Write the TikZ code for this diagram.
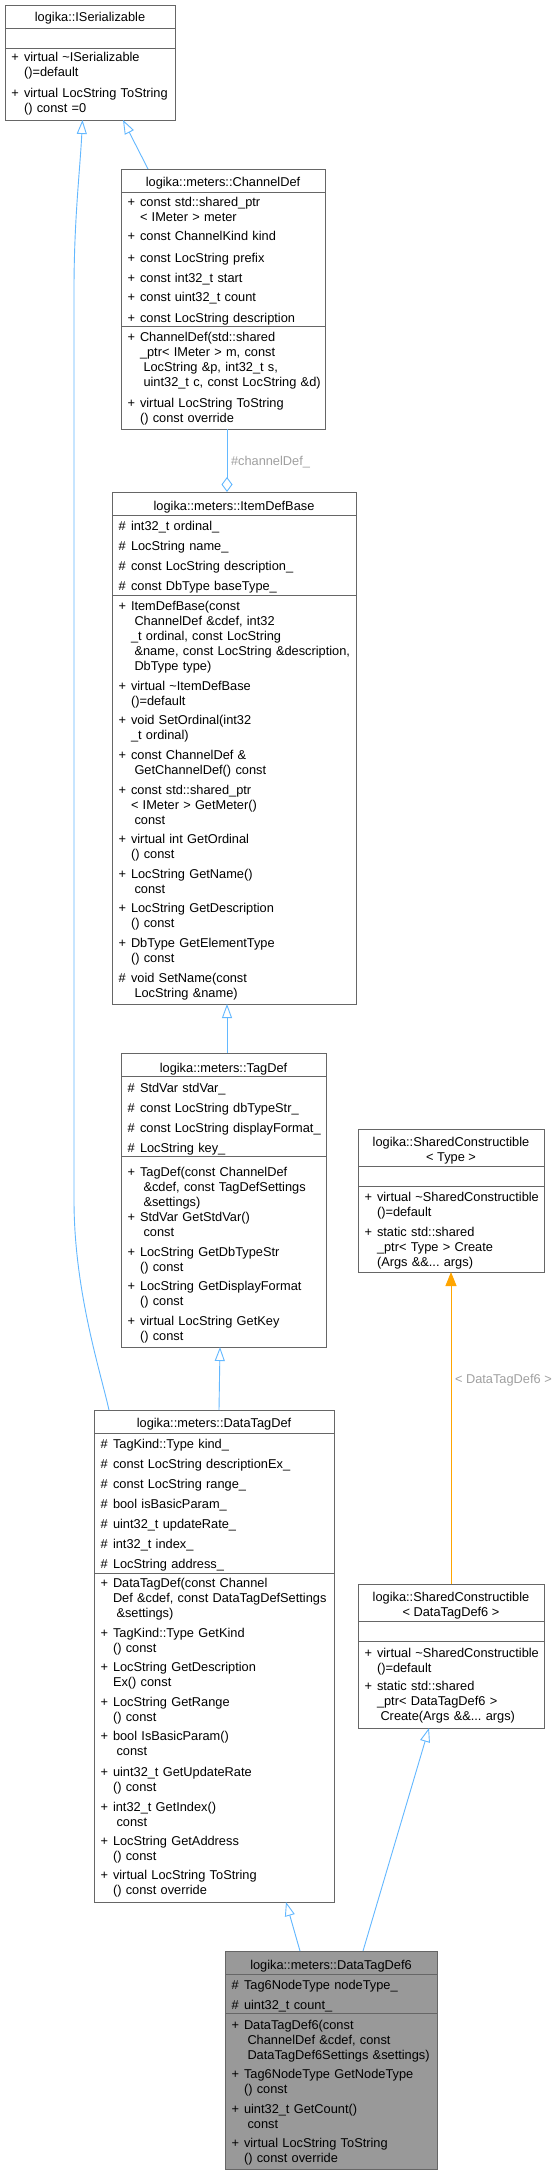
\documentclass[tikz,border=0pt]{standalone}
\usepackage{fontspec}
\setmainfont{Liberation Sans}
\usetikzlibrary{arrows.meta}
\frenchspacing
\definecolor{edgeblue}{HTML}{63B8FF}
\definecolor{edgeorange}{HTML}{FFA500}
\definecolor{boxborder}{HTML}{666666}
\definecolor{lblgray}{HTML}{A0A0A0}
\definecolor{hlfill}{HTML}{999999}
\newcommand\ind{\hspace*{3.5pt}}
% #1 name, #2 left, #3 top, #4 width, #5 height, #6 sep1, #7 sep2, #8 fill
\newcommand\classbox[8]{%
  \node[clsbox, fill=#8, minimum width=#4pt, minimum height=#5pt, anchor=north west] (#1) at (#2,#3) {};
  \draw[clsline] (#2,#6) -- ++(#4,0);
  \draw[clsline] (#2,#7) -- ++(#4,0);
}
% #1 name, #2 box left, #3 baseline, #4 symbol, #5 text
\newcommand\mem[5]{%
  \node[mtxt, anchor=base west] (#1s) at ({#2+6.5},#3) {#4};
  \node[mtxt, anchor=base west, text width=260pt, align=left] (#1) at ({#2+19},#3) {\frenchspacing #5};
}
% #1 name, #2 x, #3 baseline, #4 text
\newcommand\ttl[4]{\node[mtxt, anchor=base] (#1) at (#2,#3) {#4};}
\tikzset{
  clsbox/.style={draw=boxborder, line width=0.9pt, inner sep=0pt, outer sep=0pt},
  clsline/.style={draw=boxborder, line width=0.9pt},
  mtxt/.style={font=\fontsize{12.8}{15}\selectfont, inner sep=0pt, outer sep=0pt},
  lbl/.style={font=\fontsize{12.8}{15}\selectfont, text=lblgray, inner sep=0pt, outer sep=0pt},
  inh/.style={draw=edgeblue, line width=0.9pt, -{Triangle[open, length=14pt, width=10pt, line width=0.9pt]}},
  agg/.style={draw=edgeblue, line width=0.9pt, -{Diamond[open, length=15pt, width=11pt, line width=0.9pt]}},
  tmpl/.style={draw=edgeorange, line width=0.9pt, -{Triangle[length=14pt, width=11pt]}},
}
\begin{document}
\begin{tikzpicture}[x=1pt,y=-1pt]
\fill[white] (0,0) rectangle (558,2175);
\useasboundingbox (0,0) rectangle (558,2175);

% ISerializable
\classbox{iser}{5}{5}{170}{115}{28}{48}{white}
\ttl{iser-t}{90}{22}{logika::ISerializable}
\mem{iser-m1}{5}{62}{+}{virtual \textasciitilde ISerializable\\()=default}
\mem{iser-m2}{5}{98}{+}{virtual LocString ToString\\() const =0}

% ChannelDef
\classbox{chdef}{121}{169}{204}{260}{192}{326}{white}
\ttl{chdef-t}{223}{187}{logika::meters::ChannelDef}
\mem{chdef-a1}{121}{207}{+}{const std::shared\_ptr\\< IMeter > meter}
\mem{chdef-a2}{121}{241}{+}{const ChannelKind kind}
\mem{chdef-a3}{121}{262}{+}{const LocString prefix}
\mem{chdef-a4}{121}{282}{+}{const int32\_t start}
\mem{chdef-a5}{121}{301}{+}{const uint32\_t count}
\mem{chdef-a6}{121}{322}{+}{const LocString description}
\mem{chdef-m1}{121}{341}{+}{ChannelDef(std::shared\\\_ptr< IMeter > m, const\\\ind LocString \&p, int32\_t s,\\\ind uint32\_t c, const LocString \&d)}
\mem{chdef-m2}{121}{407}{+}{virtual LocString ToString\\() const override}

% ItemDefBase
\classbox{idb}{112}{492}{244}{512}{515}{595}{white}
\ttl{idb-t}{234}{510}{logika::meters::ItemDefBase}
\mem{idb-a1}{112}{530}{\#}{int32\_t ordinal\_}
\mem{idb-a2}{112}{550}{\#}{LocString name\_}
\mem{idb-a3}{112}{570}{\#}{const LocString description\_}
\mem{idb-a4}{112}{590}{\#}{const DbType baseType\_}
\mem{idb-m1}{112}{610}{+}{ItemDefBase(const\\\ind ChannelDef \&cdef, int32\\\_t ordinal, const LocString\\\ind \&name, const LocString \&description,\\\ind DbType type)}
\mem{idb-m2}{112}{690}{+}{virtual \textasciitilde ItemDefBase\\()=default}
\mem{idb-m3}{112}{724}{+}{void SetOrdinal(int32\\\_t ordinal)}
\mem{idb-m4}{112}{759}{+}{const ChannelDef \&\\\ind GetChannelDef() const}
\mem{idb-m5}{112}{794}{+}{const std::shared\_ptr\\< IMeter > GetMeter()\\\ind const}
\mem{idb-m6}{112}{843}{+}{virtual int GetOrdinal\\() const}
\mem{idb-m7}{112}{878}{+}{LocString GetName()\\\ind const}
\mem{idb-m8}{112}{912}{+}{LocString GetDescription\\() const}
\mem{idb-m9}{112}{947}{+}{DbType GetElementType\\() const}
\mem{idb-m10}{112}{982}{\#}{void SetName(const\\\ind LocString \&name)}

% TagDef
\classbox{tagdef}{121}{1053}{205}{294}{1076}{1156}{white}
\ttl{tagdef-t}{223.5}{1072}{logika::meters::TagDef}
\mem{tagdef-a1}{121}{1092}{\#}{StdVar stdVar\_}
\mem{tagdef-a2}{121}{1112}{\#}{const LocString dbTypeStr\_}
\mem{tagdef-a3}{121}{1132}{\#}{const LocString displayFormat\_}
\mem{tagdef-a4}{121}{1152}{\#}{LocString key\_}
\mem{tagdef-m1}{121}{1176}{+}{TagDef(const ChannelDef\\\ind \&cdef, const TagDefSettings\\\ind \&settings)}
\mem{tagdef-m2}{121}{1221}{+}{StdVar GetStdVar()\\\ind const}
\mem{tagdef-m3}{121}{1256}{+}{LocString GetDbTypeStr\\() const}
\mem{tagdef-m4}{121}{1290}{+}{LocString GetDisplayFormat\\() const}
\mem{tagdef-m5}{121}{1325}{+}{virtual LocString GetKey\\() const}

% DataTagDef
\classbox{dtd}{94}{1410}{240}{492}{1433}{1573}{white}
\ttl{dtd-t}{214}{1427}{logika::meters::DataTagDef}
\mem{dtd-a1}{94}{1448}{\#}{TagKind::Type kind\_}
\mem{dtd-a2}{94}{1468}{\#}{const LocString descriptionEx\_}
\mem{dtd-a3}{94}{1488}{\#}{const LocString range\_}
\mem{dtd-a4}{94}{1508}{\#}{bool isBasicParam\_}
\mem{dtd-a5}{94}{1528}{\#}{uint32\_t updateRate\_}
\mem{dtd-a6}{94}{1548}{\#}{int32\_t index\_}
\mem{dtd-a7}{94}{1568}{\#}{LocString address\_}
\mem{dtd-m1}{94}{1587}{+}{DataTagDef(const Channel\\Def \&cdef, const DataTagDefSettings\\\ind \&settings)}
\mem{dtd-m2}{94}{1637}{+}{TagKind::Type GetKind\\() const}
\mem{dtd-m3}{94}{1671}{+}{LocString GetDescription\\Ex() const}
\mem{dtd-m4}{94}{1706}{+}{LocString GetRange\\() const}
\mem{dtd-m5}{94}{1740}{+}{bool IsBasicParam()\\\ind const}
\mem{dtd-m6}{94}{1776}{+}{uint32\_t GetUpdateRate\\() const}
\mem{dtd-m7}{94}{1811}{+}{int32\_t GetIndex()\\\ind const}
\mem{dtd-m8}{94}{1845}{+}{LocString GetAddress\\() const}
\mem{dtd-m9}{94}{1879}{+}{virtual LocString ToString\\() const override}

% DataTagDef6
\classbox{dtd6}{225}{1951}{212}{218}{1974}{2013}{hlfill}
\ttl{dtd6-t}{331}{1969}{logika::meters::DataTagDef6}
\mem{dtd6-a1}{225}{1989}{\#}{Tag6NodeType nodeType\_}
\mem{dtd6-a2}{225}{2009}{\#}{uint32\_t count\_}
\mem{dtd6-m1}{225}{2029}{+}{DataTagDef6(const\\\ind ChannelDef \&cdef, const\\\ind DataTagDef6Settings \&settings)}
\mem{dtd6-m2}{225}{2078}{+}{Tag6NodeType GetNodeType\\() const}
\mem{dtd6-m3}{225}{2113}{+}{uint32\_t GetCount()\\\ind const}
\mem{dtd6-m4}{225}{2147}{+}{virtual LocString ToString\\() const override}

% SharedConstructible<Type>
\classbox{sct}{358}{1129}{186}{143}{1166}{1186}{white}
\ttl{sct-t1}{451}{1146}{logika::SharedConstructible}
\ttl{sct-t2}{451}{1161}{< Type >}
\mem{sct-m1}{358}{1201}{+}{virtual \textasciitilde SharedConstructible\\()=default}
\mem{sct-m2}{358}{1236}{+}{static std::shared\\\_ptr< Type > Create\\(Args \&\&... args)}

% SharedConstructible<DataTagDef6>
\classbox{sc6}{358}{1584}{186}{144}{1621}{1641}{white}
\ttl{sc6-t1}{451}{1601}{logika::SharedConstructible}
\ttl{sc6-t2}{451}{1616}{< DataTagDef6 >}
\mem{sc6-m1}{358}{1657}{+}{virtual \textasciitilde SharedConstructible\\()=default}
\mem{sc6-m2}{358}{1690}{+}{static std::shared\\\_ptr< DataTagDef6 >\\\ind Create(Args \&\&... args)}

% connectors
\draw[inh] ([xshift=27pt]chdef.north west) -- ([xshift=118pt]iser.south west);
\draw[inh] ([xshift=15pt]dtd.north west) .. controls (100,1370) and (74,1290) .. (74,1200)
  -- (74,290) .. controls (74,220) and (80,170) .. ([xshift=77.5pt]iser.south west);
\draw[agg] ([xshift=106pt]chdef.south west) -- node[lbl, pos=0.52, anchor=west, xshift=4pt] (lbl-chdef) {\#channelDef\_} ([xshift=115pt]idb.north west);
\draw[inh] ([xshift=106pt]tagdef.north west) -- ([xshift=115pt]idb.south west);
\draw[inh] ([xshift=125pt]dtd.north west) -- ([xshift=99pt]tagdef.south west);
\draw[inh] ([xshift=75pt]dtd6.north west) -- ([xshift=192pt]dtd.south west);
\draw[inh] ([xshift=138pt]dtd6.north west) -- ([xshift=71pt]sc6.south west);
\draw[tmpl] ([xshift=93pt]sc6.north west) -- node[lbl, pos=0.654, anchor=west, xshift=4pt] (lbl-tmpl) {< DataTagDef6 >} ([xshift=93pt]sct.south west);
\end{tikzpicture}
\end{document}
